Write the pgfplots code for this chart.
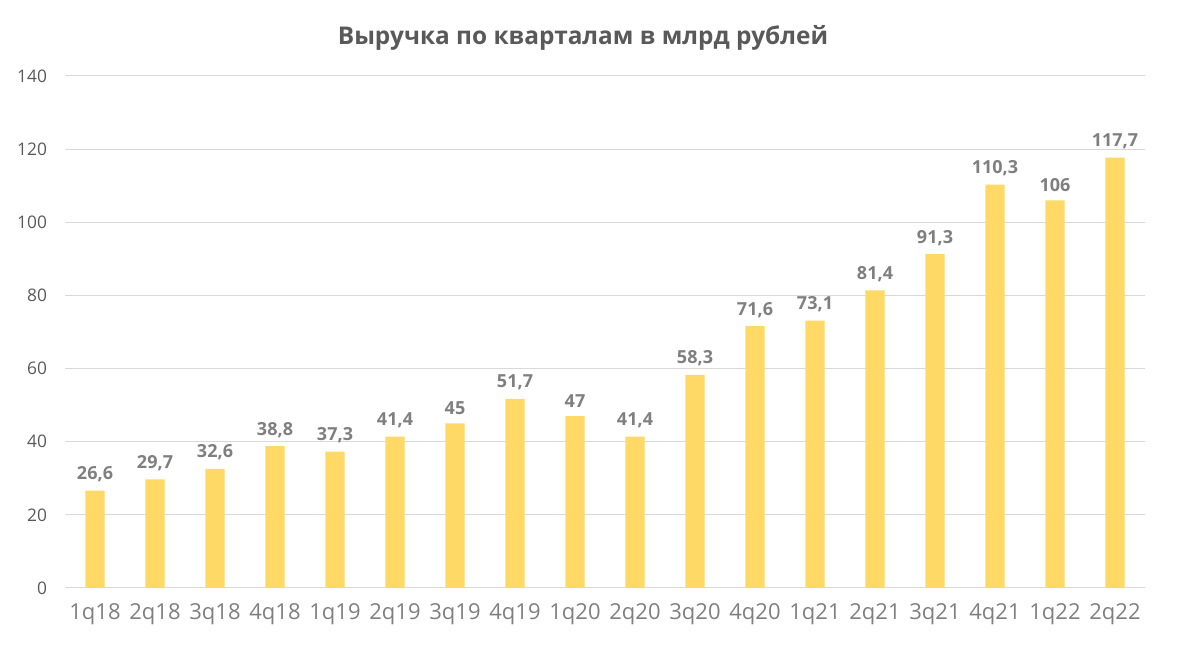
\documentclass[border=0pt]{standalone}
\usepackage{pgfplots}
\pgfplotsset{compat=1.18}
\usepackage{fontspec}
\setmainfont{Open Sans}
\definecolor{barc}{HTML}{FFD966}
\definecolor{titlec}{HTML}{595959}
\definecolor{lblc}{HTML}{7F7F7F}
\definecolor{gridc}{HTML}{D9D9D9}
\begin{document}
\begin{tikzpicture}
\path[use as bounding box] (-48.75pt,-51pt) rectangle (837pt,441pt);
\begin{axis}[
  at={(0pt,0pt)}, anchor=south west,
  scale only axis, width=810pt, height=384pt,
  xmin=-0.5, xmax=17.5, ymin=0, ymax=140,
  ybar, bar width=0.32,
  axis line style={draw=none},
  ymajorgrids, grid style={gridc, line width=0.75pt},
  ytick={0,20,...,140},
  xtick={0,...,17},
  xticklabels={1q18,2q18,3q18,4q18,1q19,2q19,3q19,4q19,1q20,2q20,3q20,4q20,1q21,2q21,3q21,4q21,1q22,2q22},
  major tick length=0pt,
  /pgf/number format/assume math mode=true,
  /pgf/number format/use comma,
  /pgf/number format/1000 sep={},
  yticklabel style={font=\fontsize{13}{15}\selectfont, text=titlec, xshift=-10pt},
  xticklabel style={font=\fontsize{16.5}{18}\selectfont, text=lblc, yshift=-8pt},
  nodes near coords,
  every node near coord/.append style={font=\bfseries\fontsize{13.5}{15}\selectfont, text=lblc, yshift=3pt},
  clip=false,
]
\addplot[fill=barc, draw=none] coordinates {
(0,26.6) (1,29.7) (2,32.6) (3,38.8) (4,37.3) (5,41.4) (6,45) (7,51.7) (8,47)
(9,41.4) (10,58.3) (11,71.6) (12,73.1) (13,81.4) (14,91.3) (15,110.3) (16,106) (17,117.7)};
\end{axis}
\node[font=\bfseries\fontsize{18.3}{20}\selectfont, text=titlec] at (388.5pt,412.5pt) {Выручка по кварталам в млрд рублей};
\end{tikzpicture}
\end{document}
